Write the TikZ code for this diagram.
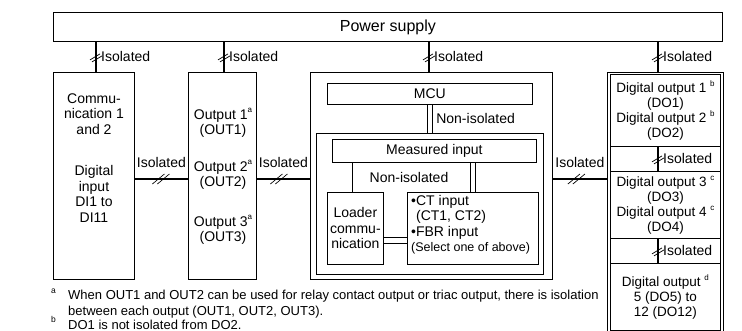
\documentclass[tikz,border=0pt]{standalone}
\usepackage{fontspec}
\setmainfont{Liberation Sans}
\usetikzlibrary{positioning,calc}

\newcommand{\fnmark}[1]{\raisebox{0.45em}{\fontsize{8}{8}\selectfont #1}}

\begin{document}
\begin{tikzpicture}[
    x=1pt, y=-1pt,
    font=\fontsize{14}{15.5}\selectfont,
    box/.style={draw, line width=0.8pt, anchor=north west, inner sep=0pt, align=center},
    iso/.style={line width=2.8pt},
    niso/.style={double, double distance=4.5pt, line width=0.8pt},
    isolbl/.style={inner sep=0pt},
    fnote/.style={anchor=base west, inner sep=0pt, font=\fontsize{13}{15}\selectfont},
    fnmk/.style={anchor=base west, inner sep=0pt, font=\fontsize{8.5}{9}\selectfont},
    isov/.pic={\draw[line width=0.7pt] (-6,3) -- (4,-3) (-4,5) -- (6,-1);},
    isoh/.pic={\draw[line width=0.7pt] (-9,5) -- (3,-5) (-4,5) -- (8,-5);}
]
\useasboundingbox (0,0) rectangle (742,331);

% Power supply
\node[box, minimum width=669pt, minimum height=29pt, font=\fontsize{16}{18}\selectfont] (power) at (53,12) {Power supply};

% Left blocks
\node[box, minimum width=81pt, minimum height=207pt] (comm) at (53,72) {};
\node[align=center] (commtxt) at (94,114) {Commu-\\nication 1\\and 2};
\node[align=center] (ditxt) at (94,194) {Digital\\input\\DI1 to\\DI11};

\node[box, minimum width=68pt, minimum height=207pt] (out) at (188,72) {};
\node[align=center, inner sep=0pt] (out1) at (223,123) {Output 1\fnmark{a}\\(OUT1)};
\node[align=center, inner sep=0pt] (out2) at (223,175) {Output 2\fnmark{a}\\(OUT2)};
\node[align=center, inner sep=0pt] (out3) at (223,230) {Output 3\fnmark{a}\\(OUT3)};

% Main unit
\node[box, minimum width=242pt, minimum height=207pt] (mainunit) at (310,72) {};
\node[box, minimum width=205pt, minimum height=21pt] (mcu) at (327,83) {MCU};
\node[box, minimum width=227pt, minimum height=141pt] (inputs) at (316,133) {};
\node[box, minimum width=204pt, minimum height=23pt] (meas) at (332,139) {Measured input};
\node[box, minimum width=56pt, minimum height=72pt] (loader) at (327,192) {Loader\\commu-\\nication};
\node[box, minimum width=131pt, minimum height=72pt] (ctin) at (407,192) {};
\node[anchor=north west, align=left, inner sep=0pt] (cttxt) at (411,195) {%
    •CT input\\\phantom{•}(CT1, CT2)\\•FBR input\\{\fontsize{12.5}{15}\selectfont(Select one of above)}};

% Digital outputs
\node[box, minimum width=116pt, minimum height=275pt] (doframe) at (607,72) {};
\node[box, minimum width=110pt, minimum height=271pt] (doinner) at (610,74) {};
\node[box, minimum width=110pt, minimum height=72pt, font=\fontsize{13.5}{15}\selectfont] (do12) at (610,74)
    {Digital output 1 \fnmark{b}\\(DO1)\\Digital output 2 \fnmark{b}\\(DO2)};
\node[box, minimum width=110pt, minimum height=67pt, font=\fontsize{13.5}{15}\selectfont] (do34) at (610,171)
    {Digital output 3 \fnmark{c}\\(DO3)\\Digital output 4 \fnmark{c}\\(DO4)};
\node[box, minimum width=110pt, minimum height=67pt, font=\fontsize{13.5}{15}\selectfont] (do512) at (610,263)
    {Digital output \fnmark{d}\\5 (DO5) to\\12 (DO12)};

% Isolated links from the power supply
\coordinate (vcomm) at (96,0);
\coordinate (vout) at (224,0);
\coordinate (vmain) at (429,0);
\coordinate (vdo) at (658,0);
\draw[iso] (vcomm |- power.south) -- (vcomm |- comm.north) coordinate[midway] (m1);
\draw[iso] (vout |- power.south) -- (vout |- out.north) coordinate[midway] (m2);
\draw[iso] (vmain |- power.south) -- (vmain |- mainunit.north) coordinate[midway] (m3);
\draw[iso] (vdo |- power.south) -- (vdo |- doframe.north) coordinate[midway] (m4);
\draw[iso] (vdo |- do12.south) -- (vdo |- do34.north) coordinate[midway] (m5);
\draw[iso] (vdo |- do34.south) -- (vdo |- do512.north) coordinate[midway] (m6);
\foreach \m in {m1,m2,m3,m4,m5,m6} {
    \pic at (\m) {isov};
    \node[isolbl, anchor=west] at ($(\m)+(5,0)$) {Isolated};
}

% Isolated links between blocks
\coordinate (hlink) at (0,179);
\draw[iso] (comm.east |- hlink) -- (out.west |- hlink) coordinate[midway] (h1);
\draw[iso] (out.east |- hlink) -- (mainunit.west |- hlink) coordinate[midway] (h2);
\draw[iso] (mainunit.east |- hlink) -- (doframe.west |- hlink) coordinate[midway] (h3);
\foreach \h/\dx in {h1/0,h2/-4,h3/-3} {
    \pic at ($(\h)+(\dx,0)$) {isoh};
    \node[isolbl, anchor=base] at ($(\h)+(0,-11)$) {Isolated};
}

% Non-isolated links
\draw[niso] (mcu.south) -- (mcu.south |- inputs.north) node[midway, anchor=west, inner sep=0pt, xshift=6pt] (nonisomcu) {Non-isolated};
\draw[niso] (loader.north) -- (loader.north |- meas.south);
\draw[niso] (ctin.north) -- (ctin.north |- meas.south);
\node (nonisoin) at (409,177) {Non-isolated};
\coordinate (lcy) at (0,240.5);
\draw[niso] (loader.east |- lcy) -- (ctin.west |- lcy);

% Footnotes
\node[fnmk] (fnma) at (51,294) {a};
\node[fnote] (fna) at (68,300) {When OUT1 and OUT2 can be used for relay contact output or triac output, there is isolation};
\node[fnote] (fna2) at (68,316) {between each output (OUT1, OUT2, OUT3).};
\node[fnmk] (fnmb) at (51,323) {b};
\node[fnote] (fnb) at (68,329) {DO1 is not isolated from DO2.};
\end{tikzpicture}
\end{document}
